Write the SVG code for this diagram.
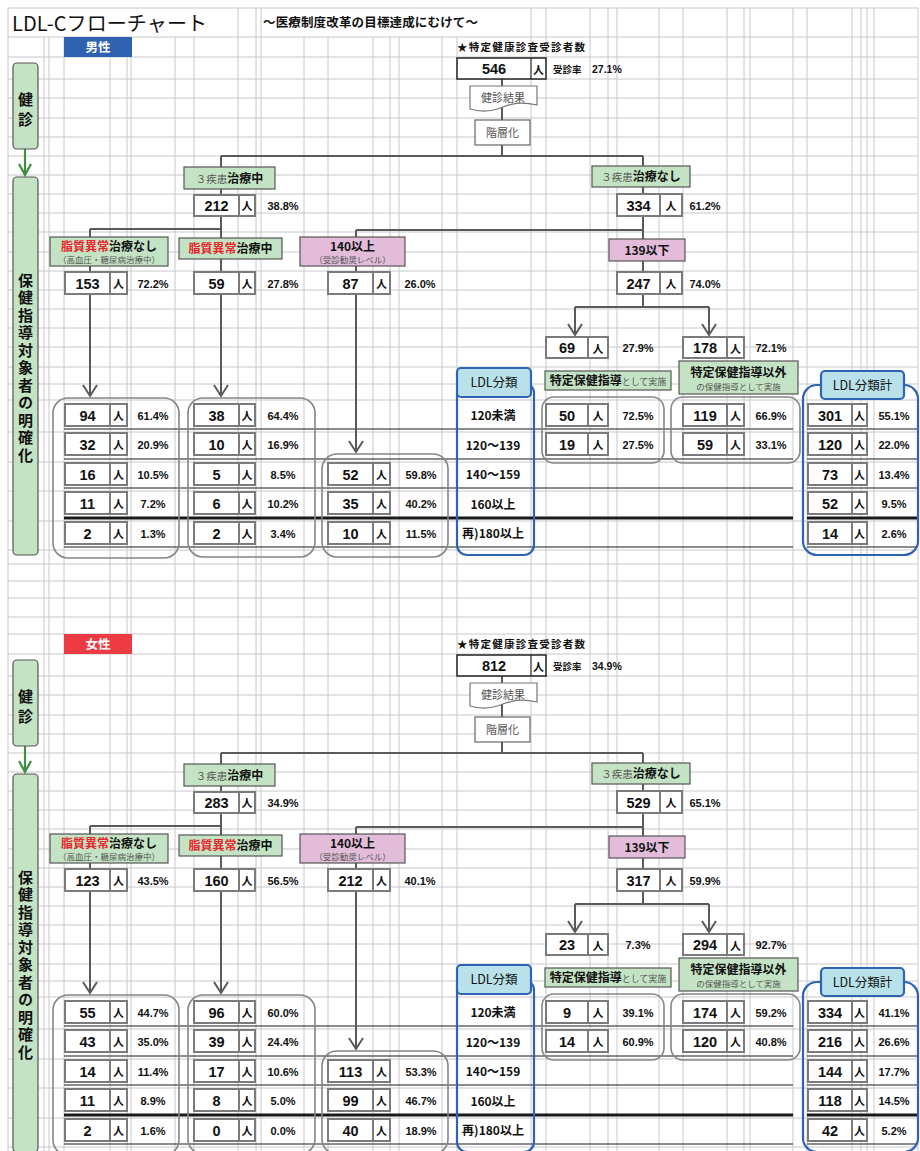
<svg xmlns="http://www.w3.org/2000/svg" width="920" height="1151" viewBox="0 0 920 1151">
<style>
.g{stroke:#c8c8ce;stroke-width:1;fill:none}
.c{stroke:#5a5a5a;stroke-width:2;fill:none}
.ga{stroke:#3f8f43;stroke-width:2.2;fill:none}
.cell{fill:#fff;stroke:#7b7b7b;stroke-width:2}
.dv{stroke:#7b7b7b;stroke-width:2}
.grn{fill:#c4e3c4;stroke:#555;stroke-width:1.2}
.pnk{fill:#e2bcd9;stroke:#555;stroke-width:1.2}
.grp{fill:none;stroke:#858585;stroke-width:1.6}
.bl{fill:none;stroke:#2f63b6;stroke-width:2.2}
.bll{fill:#b8e1ea;stroke:#2f63b6;stroke-width:2.2}
.hl{stroke:#1a1a1a;stroke-width:1.2;fill:none}
.hk{stroke:#1a1a1a;stroke-width:2.8;fill:none}
text{font-family:"Liberation Sans","Noto Sans CJK JP",sans-serif;fill:#111}
.j{font-family:"Noto Sans CJK JP",sans-serif}
.num{font-size:14.5px;font-weight:bold;text-anchor:middle}
.nin{font-family:"Noto Sans CJK JP",sans-serif;font-size:11px;font-weight:bold;text-anchor:middle}
.pct{font-size:11px;font-weight:bold;text-anchor:middle}
.lbl{font-family:"Noto Sans CJK JP",sans-serif;font-size:12px;font-weight:bold;text-anchor:middle}
.sub{font-family:"Noto Sans CJK JP",sans-serif;font-size:8.5px;fill:#555;text-anchor:middle}
.gy{font-weight:normal;fill:#555}
.rd{fill:#e8262e}
.side{font-family:"Noto Sans CJK JP",sans-serif;font-size:15px;font-weight:bold;writing-mode:vertical-rl}
.ldl{font-family:"Noto Sans CJK JP",sans-serif;font-size:12px;font-weight:bold;text-anchor:middle}
.gtx{font-family:"Noto Sans CJK JP",sans-serif;font-size:11px;fill:#555;text-anchor:middle}
</style>
<rect width="920" height="1151" fill="#fff"/>
<g id="grid">
<path class="g" d="M8,8V1151M238,8V1151M256,8V1151M261,8V1151M531,8V1151M546,8V1151M590,8V1151M608,8V1151M617,8V1151M659,8V1151M683,8V1151M727,8V1151M744,8V1151M750,8V1151M793,8V1151M807,8V1151M852,8V1151M861,8V1151M867,8V1151M874,8V1151M918,8V1151M44,37V1151M49,37V1151M64,37V1151M110,37V1151M127,37V1151M131,37V1151M175,37V1151M194,37V1151M304,37V1151M328,37V1151M373,37V1151M390,37V1151M399,37V1151M442,37V1151M457,37V1151"/>
<path class="g" d="M8,8H918M8,37H918M8,57H918M8,79H918M8,98H918M8,118H918M8,137H918M8,156H918M8,175H918M8,194H918M8,213H918M8,232H918M8,252H918M8,271H918M8,290H918M8,309H918M8,328H918M8,347H918M8,367H918M8,384H918M8,400H918M8,432H918M8,462H918M8,491H918M8,521H918M8,550H918M8,564H918M8,581H918M8,598H918M8,617H918M8,634H918M8,654H918M8,676H918M8,695H918M8,715H918M8,734H918M8,753H918M8,772H918M8,791H918M8,810H918M8,829H918M8,849H918M8,868H918M8,887H918M8,906H918M8,925H918M8,944H918M8,964H918M8,981H918M8,997H918M8,1029H918M8,1059H918M8,1088H918M8,1118H918M8,1147H918"/>
</g>
<g id="rowlines">
<path class="hl" d="M64,429H793M807,429H917M64,459H793M807,459H917M64,488H793M807,488H917M64,547H793M807,547H917"/>
<path class="hk" d="M64,518H793M807,518H917"/>
<path class="hl" d="M64,1026H793M807,1026H917M64,1056H793M807,1056H917M64,1085H793M807,1085H917M64,1144H793M807,1144H917"/>
<path class="hk" d="M64,1115H793M807,1115H917"/>
</g>
<g id="title"><text class="j" x="12" y="31" font-size="20" textLength="195" lengthAdjust="spacing">LDL-Cフローチャート</text>
<text class="j" x="263" y="27" font-size="12.5" font-weight="bold" textLength="215">～医療制度改革の目標達成にむけて～</text></g>
<g id="connectors">
<path class="c" d="M502,79V156M221,156H643M221,156V167M643,156V166M221,189V195M643,187V194M221,216V238M90,229H221M90,229V237M643,216V239M356,230H643M356,230V237M90,266V272M221,259V272M643,261V272M356,266V272M90,294V396M221,294V396M356,294V452M643,294V307M575,307H709M575,307V335M709,307V335M83,385L90,396L97,385M214,385L221,396L228,385M349,441L356,452L363,441M568,324L575,335L582,324M702,324L709,335L716,324"/>
<path class="c" transform="translate(0,597)" d="M502,79V156M221,156H643M221,156V167M643,156V166M221,189V195M643,187V194M221,216V238M90,229H221M90,229V237M643,216V239M356,230H643M356,230V237M90,266V272M221,259V272M643,261V272M356,266V272M90,294V396M221,294V396M356,294V452M643,294V307M575,307H709M575,307V335M709,307V335M83,385L90,396L97,385M214,385L221,396L228,385M349,441L356,452L363,441M568,324L575,335L582,324M702,324L709,335L716,324"/>
<path class="ga" d="M25,149V174M19,164L25,175L31,164M25,746V771M19,761L25,772L31,761"/>
</g>
<g id="male">
<g id="m-label"><rect x="64" y="37" width="68" height="20" fill="#2f62b0"/><text class="j" x="98" y="52" font-size="12.5" font-weight="bold" text-anchor="middle" style="fill:#fff">男性</text></g>
<g id="m-kenshin"><rect class="grn" x="13" y="63" width="25" height="86" rx="4"/><text class="side" x="25.5" y="91.5" letter-spacing="5">健診</text></g>
<g id="m-hoken"><rect class="grn" x="13" y="177" width="25" height="378" rx="4"/><text class="side" x="25.5" y="272.5" letter-spacing="2.5">保健指導対象者の明確化</text></g>
<g id="m-total"><text class="j" x="457" y="51" font-size="10.5" font-weight="bold" textLength="128">★特定健康診査受診者数</text><rect x="457" y="58" width="89" height="21" fill="#fff" stroke="#222" stroke-width="1.5"/><line x1="531" y1="58" x2="531" y2="79" stroke="#222" stroke-width="1.2"/><text class="num" x="494" y="74">546</text><text class="nin" x="538.5" y="74">人</text><text class="j" x="553" y="73" font-size="9.5" font-weight="bold">受診率</text><text x="592" y="73" font-size="10.5" font-weight="bold">27.1%</text></g>
<g id="m-result"><path d="M470,86H537V105C520,101 511,104 503,107C491,112 480,112 470,109Z" fill="#fff" stroke="#777" stroke-width="1.2"/><text class="gtx" x="503" y="102">健診結果</text></g>
<g id="m-strat"><rect x="475" y="120" width="55" height="25" fill="#fff" stroke="#666" stroke-width="1.2"/><text class="gtx" x="502.5" y="137">階層化</text></g>
<g id="m-3tx"><rect class="grn" x="184" y="167" width="91" height="22"/><text class="lbl" x="229.5" y="182.5"><tspan class="gy" font-size="10.5">３疾患</tspan>治療中</text></g>
<g id="m-212"><rect class="cell" x="194" y="195" width="61" height="21"/><line class="dv" x1="239" y1="195" x2="239" y2="216"/><text class="num" x="216.5" y="211">212</text><text class="nin" x="247" y="210">人</text><text class="pct" x="283" y="210">38.8%</text></g>
<g id="m-3no"><rect class="grn" x="592" y="166" width="98" height="21"/><text class="lbl" x="641" y="181"><tspan class="gy" font-size="10.5">３疾患</tspan>治療なし</text></g>
<g id="m-334"><rect class="cell" x="617" y="194" width="65" height="22"/><line class="dv" x1="660" y1="194" x2="660" y2="216"/><text class="num" x="638.5" y="210.5">334</text><text class="nin" x="671" y="210">人</text><text class="pct" x="705" y="209.5">61.2%</text></g>
<g id="m-lipno"><rect class="grn" x="50" y="237" width="118" height="29"/><text class="lbl" x="109" y="250.5"><tspan class="rd">脂質異常</tspan>治療なし</text><text class="sub" x="109" y="262.5">（高血圧・糖尿病治療中）</text></g>
<g id="m-liptx"><rect class="grn" x="179" y="238" width="103" height="21"/><text class="lbl" x="230.5" y="253"><tspan class="rd">脂質異常</tspan>治療中</text></g>
<g id="m-140"><rect class="pnk" x="300" y="237" width="105" height="29"/><text class="lbl" x="352.5" y="250.5">140以上</text><text class="sub" x="352.5" y="262.5">（受診勧奨レベル）</text></g>
<g id="m-139"><rect class="pnk" x="609" y="239" width="76" height="22"/><text class="lbl" x="647" y="254.5">139以下</text></g>
<g id="m-153"><rect class="cell" x="65" y="272" width="62" height="22"/><line class="dv" x1="110" y1="272" x2="110" y2="294"/><text class="num" x="87.5" y="288.5">153</text><text class="nin" x="118.5" y="288">人</text><text class="pct" x="153" y="287.5">72.2%</text></g>
<g id="m-59"><rect class="cell" x="194" y="272" width="61" height="22"/><line class="dv" x1="239" y1="272" x2="239" y2="294"/><text class="num" x="216.5" y="288.5">59</text><text class="nin" x="247" y="288">人</text><text class="pct" x="283" y="287.5">27.8%</text></g>
<g id="m-87"><rect class="cell" x="328" y="272" width="62" height="22"/><line class="dv" x1="373" y1="272" x2="373" y2="294"/><text class="num" x="350.5" y="288.5">87</text><text class="nin" x="381.5" y="288">人</text><text class="pct" x="420" y="287.5">26.0%</text></g>
<g id="m-247"><rect class="cell" x="617" y="272" width="65" height="22"/><line class="dv" x1="660" y1="272" x2="660" y2="294"/><text class="num" x="638.5" y="288.5">247</text><text class="nin" x="671" y="288">人</text><text class="pct" x="705" y="287.5">74.0%</text></g>
<g id="m-69"><rect class="cell" x="546" y="337" width="62" height="21"/><line class="dv" x1="588" y1="337" x2="588" y2="358"/><text class="num" x="567" y="353">69</text><text class="nin" x="598" y="352.5">人</text><text class="pct" x="638" y="352">27.9%</text></g>
<g id="m-178"><rect class="cell" x="683" y="337" width="61" height="21"/><line class="dv" x1="727" y1="337" x2="727" y2="358"/><text class="num" x="705" y="353">178</text><text class="nin" x="735.5" y="352.5">人</text><text class="pct" x="771" y="352">72.1%</text></g>
<g id="m-tokutei"><rect class="grn" x="545" y="371" width="126" height="19"/><text class="lbl" x="608" y="385" font-size="11.5">特定保健指導<tspan class="gy" font-size="9">として実施</tspan></text></g>
<g id="m-other"><rect class="grn" x="679" y="361" width="119" height="33"/><text class="lbl" x="738.5" y="377" font-size="12.5">特定保健指導以外</text><text class="sub" x="738.5" y="389.5" font-size="9">の保健指導として実施</text></g>
<g id="m-ldl"><rect class="bl" x="457" y="383" width="77" height="172" rx="10"/><rect class="bll" x="457" y="368" width="74" height="29" rx="4"/><text class="j" x="494" y="387" font-size="12.5" text-anchor="middle">LDL分類</text><text class="ldl" x="493" y="420">120未満</text><text class="ldl" x="493" y="449.5">120～139</text><text class="ldl" x="493" y="479">140～159</text><text class="ldl" x="493" y="508.5">160以上</text><text class="ldl" x="493" y="537.5" font-size="10.5">再)180以上</text></g>
<g id="m-g1"><rect class="grp" x="53" y="398" width="126" height="160" rx="15"/>
<rect class="cell" x="65" y="404" width="62" height="22"/><line class="dv" x1="110" y1="404" x2="110" y2="426"/><text class="num" x="87.5" y="420.5">94</text><text class="nin" x="118.5" y="420">人</text><text class="pct" x="153" y="419.5">61.4%</text>
<rect class="cell" x="65" y="433" width="62" height="22"/><line class="dv" x1="110" y1="433" x2="110" y2="455"/><text class="num" x="87.5" y="449.5">32</text><text class="nin" x="118.5" y="449">人</text><text class="pct" x="153" y="448.5">20.9%</text>
<rect class="cell" x="65" y="463" width="62" height="22"/><line class="dv" x1="110" y1="463" x2="110" y2="485"/><text class="num" x="87.5" y="479.5">16</text><text class="nin" x="118.5" y="479">人</text><text class="pct" x="153" y="478.5">10.5%</text>
<rect class="cell" x="65" y="492" width="62" height="22"/><line class="dv" x1="110" y1="492" x2="110" y2="514"/><text class="num" x="87.5" y="508.5">11</text><text class="nin" x="118.5" y="508">人</text><text class="pct" x="153" y="507.5">7.2%</text>
<rect class="cell" x="65" y="522" width="62" height="22"/><line class="dv" x1="110" y1="522" x2="110" y2="544"/><text class="num" x="87.5" y="538.5">2</text><text class="nin" x="118.5" y="538">人</text><text class="pct" x="153" y="537.5">1.3%</text></g>
<g id="m-g2"><rect class="grp" x="188" y="398" width="127" height="159" rx="15"/>
<rect class="cell" x="194" y="404" width="61" height="22"/><line class="dv" x1="239" y1="404" x2="239" y2="426"/><text class="num" x="216.5" y="420.5">38</text><text class="nin" x="247" y="420">人</text><text class="pct" x="283" y="419.5">64.4%</text>
<rect class="cell" x="194" y="433" width="61" height="22"/><line class="dv" x1="239" y1="433" x2="239" y2="455"/><text class="num" x="216.5" y="449.5">10</text><text class="nin" x="247" y="449">人</text><text class="pct" x="283" y="448.5">16.9%</text>
<rect class="cell" x="194" y="463" width="61" height="22"/><line class="dv" x1="239" y1="463" x2="239" y2="485"/><text class="num" x="216.5" y="479.5">5</text><text class="nin" x="247" y="479">人</text><text class="pct" x="283" y="478.5">8.5%</text>
<rect class="cell" x="194" y="492" width="61" height="22"/><line class="dv" x1="239" y1="492" x2="239" y2="514"/><text class="num" x="216.5" y="508.5">6</text><text class="nin" x="247" y="508">人</text><text class="pct" x="283" y="507.5">10.2%</text>
<rect class="cell" x="194" y="522" width="61" height="22"/><line class="dv" x1="239" y1="522" x2="239" y2="544"/><text class="num" x="216.5" y="538.5">2</text><text class="nin" x="247" y="538">人</text><text class="pct" x="283" y="537.5">3.4%</text></g>
<g id="m-g3"><rect class="grp" x="322" y="454" width="126" height="103" rx="15"/>
<rect class="cell" x="328" y="463" width="62" height="22"/><line class="dv" x1="373" y1="463" x2="373" y2="485"/><text class="num" x="350.5" y="479.5">52</text><text class="nin" x="381.5" y="479">人</text><text class="pct" x="421" y="478.5">59.8%</text>
<rect class="cell" x="328" y="492" width="62" height="22"/><line class="dv" x1="373" y1="492" x2="373" y2="514"/><text class="num" x="350.5" y="508.5">35</text><text class="nin" x="381.5" y="508">人</text><text class="pct" x="421" y="507.5">40.2%</text>
<rect class="cell" x="328" y="522" width="62" height="22"/><line class="dv" x1="373" y1="522" x2="373" y2="544"/><text class="num" x="350.5" y="538.5">10</text><text class="nin" x="381.5" y="538">人</text><text class="pct" x="421" y="537.5">11.5%</text></g>
<g id="m-g4"><rect class="grp" x="542" y="397" width="122" height="66" rx="12"/>
<rect class="cell" x="546" y="404" width="62" height="22"/><line class="dv" x1="588" y1="404" x2="588" y2="426"/><text class="num" x="567" y="420.5">50</text><text class="nin" x="598" y="420">人</text><text class="pct" x="638" y="419.5">72.5%</text>
<rect class="cell" x="546" y="433" width="62" height="22"/><line class="dv" x1="588" y1="433" x2="588" y2="455"/><text class="num" x="567" y="449.5">19</text><text class="nin" x="598" y="449">人</text><text class="pct" x="638" y="448.5">27.5%</text></g>
<g id="m-g5"><rect class="grp" x="671" y="397" width="129" height="66" rx="12"/>
<rect class="cell" x="683" y="404" width="61" height="22"/><line class="dv" x1="727" y1="404" x2="727" y2="426"/><text class="num" x="705" y="420.5">119</text><text class="nin" x="735.5" y="420">人</text><text class="pct" x="771" y="419.5">66.9%</text>
<rect class="cell" x="683" y="433" width="61" height="22"/><line class="dv" x1="727" y1="433" x2="727" y2="455"/><text class="num" x="705" y="449.5">59</text><text class="nin" x="735.5" y="449">人</text><text class="pct" x="771" y="448.5">33.1%</text></g>
<g id="m-sum"><rect class="bl" x="803" y="385" width="115" height="170" rx="14"/><rect class="bll" x="821" y="371" width="83" height="28" rx="4"/><text class="j" x="862.5" y="390" font-size="12.5" text-anchor="middle">LDL分類計</text>
<rect class="cell" x="808" y="404" width="59" height="22"/><line class="dv" x1="852" y1="404" x2="852" y2="426"/><text class="num" x="830" y="420.5">301</text><text class="nin" x="859.5" y="420">人</text><text class="pct" x="894" y="419.5">55.1%</text>
<rect class="cell" x="808" y="433" width="59" height="22"/><line class="dv" x1="852" y1="433" x2="852" y2="455"/><text class="num" x="830" y="449.5">120</text><text class="nin" x="859.5" y="449">人</text><text class="pct" x="894" y="448.5">22.0%</text>
<rect class="cell" x="808" y="463" width="59" height="22"/><line class="dv" x1="852" y1="463" x2="852" y2="485"/><text class="num" x="830" y="479.5">73</text><text class="nin" x="859.5" y="479">人</text><text class="pct" x="894" y="478.5">13.4%</text>
<rect class="cell" x="808" y="492" width="59" height="22"/><line class="dv" x1="852" y1="492" x2="852" y2="514"/><text class="num" x="830" y="508.5">52</text><text class="nin" x="859.5" y="508">人</text><text class="pct" x="894" y="507.5">9.5%</text>
<rect class="cell" x="808" y="522" width="59" height="22"/><line class="dv" x1="852" y1="522" x2="852" y2="544"/><text class="num" x="830" y="538.5">14</text><text class="nin" x="859.5" y="538">人</text><text class="pct" x="894" y="537.5">2.6%</text></g>
</g>
<g id="female" transform="translate(0,597)">
<g id="f-label"><rect x="64" y="37" width="68" height="20" fill="#ee3a43"/><text class="j" x="98" y="52" font-size="12.5" font-weight="bold" text-anchor="middle" style="fill:#fff">女性</text></g>
<g id="f-kenshin"><rect class="grn" x="13" y="63" width="25" height="86" rx="4"/><text class="side" x="25.5" y="91.5" letter-spacing="5">健診</text></g>
<g id="f-hoken"><rect class="grn" x="13" y="177" width="25" height="378" rx="4"/><text class="side" x="25.5" y="272.5" letter-spacing="2.5">保健指導対象者の明確化</text></g>
<g id="f-total"><text class="j" x="457" y="51" font-size="10.5" font-weight="bold" textLength="128">★特定健康診査受診者数</text><rect x="457" y="58" width="89" height="21" fill="#fff" stroke="#222" stroke-width="1.5"/><line x1="531" y1="58" x2="531" y2="79" stroke="#222" stroke-width="1.2"/><text class="num" x="494" y="74">812</text><text class="nin" x="538.5" y="74">人</text><text class="j" x="553" y="73" font-size="9.5" font-weight="bold">受診率</text><text x="592" y="73" font-size="10.5" font-weight="bold">34.9%</text></g>
<g id="f-result"><path d="M470,86H537V105C520,101 511,104 503,107C491,112 480,112 470,109Z" fill="#fff" stroke="#777" stroke-width="1.2"/><text class="gtx" x="503" y="102">健診結果</text></g>
<g id="f-strat"><rect x="475" y="120" width="55" height="25" fill="#fff" stroke="#666" stroke-width="1.2"/><text class="gtx" x="502.5" y="137">階層化</text></g>
<g id="f-3tx"><rect class="grn" x="184" y="167" width="91" height="22"/><text class="lbl" x="229.5" y="182.5"><tspan class="gy" font-size="10.5">３疾患</tspan>治療中</text></g>
<g id="f-283"><rect class="cell" x="194" y="195" width="61" height="21"/><line class="dv" x1="239" y1="195" x2="239" y2="216"/><text class="num" x="216.5" y="211">283</text><text class="nin" x="247" y="210">人</text><text class="pct" x="283" y="210">34.9%</text></g>
<g id="f-3no"><rect class="grn" x="592" y="166" width="98" height="21"/><text class="lbl" x="641" y="181"><tspan class="gy" font-size="10.5">３疾患</tspan>治療なし</text></g>
<g id="f-529"><rect class="cell" x="617" y="194" width="65" height="22"/><line class="dv" x1="660" y1="194" x2="660" y2="216"/><text class="num" x="638.5" y="210.5">529</text><text class="nin" x="671" y="210">人</text><text class="pct" x="705" y="209.5">65.1%</text></g>
<g id="f-lipno"><rect class="grn" x="50" y="237" width="118" height="29"/><text class="lbl" x="109" y="250.5"><tspan class="rd">脂質異常</tspan>治療なし</text><text class="sub" x="109" y="262.5">（高血圧・糖尿病治療中）</text></g>
<g id="f-liptx"><rect class="grn" x="179" y="238" width="103" height="21"/><text class="lbl" x="230.5" y="253"><tspan class="rd">脂質異常</tspan>治療中</text></g>
<g id="f-140"><rect class="pnk" x="300" y="237" width="105" height="29"/><text class="lbl" x="352.5" y="250.5">140以上</text><text class="sub" x="352.5" y="262.5">（受診勧奨レベル）</text></g>
<g id="f-139"><rect class="pnk" x="609" y="239" width="76" height="22"/><text class="lbl" x="647" y="254.5">139以下</text></g>
<g id="f-123"><rect class="cell" x="65" y="272" width="62" height="22"/><line class="dv" x1="110" y1="272" x2="110" y2="294"/><text class="num" x="87.5" y="288.5">123</text><text class="nin" x="118.5" y="288">人</text><text class="pct" x="153" y="287.5">43.5%</text></g>
<g id="f-160"><rect class="cell" x="194" y="272" width="61" height="22"/><line class="dv" x1="239" y1="272" x2="239" y2="294"/><text class="num" x="216.5" y="288.5">160</text><text class="nin" x="247" y="288">人</text><text class="pct" x="283" y="287.5">56.5%</text></g>
<g id="f-212"><rect class="cell" x="328" y="272" width="62" height="22"/><line class="dv" x1="373" y1="272" x2="373" y2="294"/><text class="num" x="350.5" y="288.5">212</text><text class="nin" x="381.5" y="288">人</text><text class="pct" x="420" y="287.5">40.1%</text></g>
<g id="f-317"><rect class="cell" x="617" y="272" width="65" height="22"/><line class="dv" x1="660" y1="272" x2="660" y2="294"/><text class="num" x="638.5" y="288.5">317</text><text class="nin" x="671" y="288">人</text><text class="pct" x="705" y="287.5">59.9%</text></g>
<g id="f-23"><rect class="cell" x="546" y="337" width="62" height="21"/><line class="dv" x1="588" y1="337" x2="588" y2="358"/><text class="num" x="567" y="353">23</text><text class="nin" x="598" y="352.5">人</text><text class="pct" x="638" y="352">7.3%</text></g>
<g id="f-294"><rect class="cell" x="683" y="337" width="61" height="21"/><line class="dv" x1="727" y1="337" x2="727" y2="358"/><text class="num" x="705" y="353">294</text><text class="nin" x="735.5" y="352.5">人</text><text class="pct" x="771" y="352">92.7%</text></g>
<g id="f-tokutei"><rect class="grn" x="545" y="371" width="126" height="19"/><text class="lbl" x="608" y="385" font-size="11.5">特定保健指導<tspan class="gy" font-size="9">として実施</tspan></text></g>
<g id="f-other"><rect class="grn" x="679" y="361" width="119" height="33"/><text class="lbl" x="738.5" y="377" font-size="12.5">特定保健指導以外</text><text class="sub" x="738.5" y="389.5" font-size="9">の保健指導として実施</text></g>
<g id="f-ldl"><rect class="bl" x="457" y="383" width="77" height="172" rx="10"/><rect class="bll" x="457" y="368" width="74" height="29" rx="4"/><text class="j" x="494" y="387" font-size="12.5" text-anchor="middle">LDL分類</text><text class="ldl" x="493" y="420">120未満</text><text class="ldl" x="493" y="449.5">120～139</text><text class="ldl" x="493" y="479">140～159</text><text class="ldl" x="493" y="508.5">160以上</text><text class="ldl" x="493" y="537.5" font-size="10.5">再)180以上</text></g>
<g id="f-g1"><rect class="grp" x="53" y="398" width="126" height="160" rx="15"/>
<rect class="cell" x="65" y="404" width="62" height="22"/><line class="dv" x1="110" y1="404" x2="110" y2="426"/><text class="num" x="87.5" y="420.5">55</text><text class="nin" x="118.5" y="420">人</text><text class="pct" x="153" y="419.5">44.7%</text>
<rect class="cell" x="65" y="433" width="62" height="22"/><line class="dv" x1="110" y1="433" x2="110" y2="455"/><text class="num" x="87.5" y="449.5">43</text><text class="nin" x="118.5" y="449">人</text><text class="pct" x="153" y="448.5">35.0%</text>
<rect class="cell" x="65" y="463" width="62" height="22"/><line class="dv" x1="110" y1="463" x2="110" y2="485"/><text class="num" x="87.5" y="479.5">14</text><text class="nin" x="118.5" y="479">人</text><text class="pct" x="153" y="478.5">11.4%</text>
<rect class="cell" x="65" y="492" width="62" height="22"/><line class="dv" x1="110" y1="492" x2="110" y2="514"/><text class="num" x="87.5" y="508.5">11</text><text class="nin" x="118.5" y="508">人</text><text class="pct" x="153" y="507.5">8.9%</text>
<rect class="cell" x="65" y="522" width="62" height="22"/><line class="dv" x1="110" y1="522" x2="110" y2="544"/><text class="num" x="87.5" y="538.5">2</text><text class="nin" x="118.5" y="538">人</text><text class="pct" x="153" y="537.5">1.6%</text></g>
<g id="f-g2"><rect class="grp" x="188" y="398" width="127" height="159" rx="15"/>
<rect class="cell" x="194" y="404" width="61" height="22"/><line class="dv" x1="239" y1="404" x2="239" y2="426"/><text class="num" x="216.5" y="420.5">96</text><text class="nin" x="247" y="420">人</text><text class="pct" x="283" y="419.5">60.0%</text>
<rect class="cell" x="194" y="433" width="61" height="22"/><line class="dv" x1="239" y1="433" x2="239" y2="455"/><text class="num" x="216.5" y="449.5">39</text><text class="nin" x="247" y="449">人</text><text class="pct" x="283" y="448.5">24.4%</text>
<rect class="cell" x="194" y="463" width="61" height="22"/><line class="dv" x1="239" y1="463" x2="239" y2="485"/><text class="num" x="216.5" y="479.5">17</text><text class="nin" x="247" y="479">人</text><text class="pct" x="283" y="478.5">10.6%</text>
<rect class="cell" x="194" y="492" width="61" height="22"/><line class="dv" x1="239" y1="492" x2="239" y2="514"/><text class="num" x="216.5" y="508.5">8</text><text class="nin" x="247" y="508">人</text><text class="pct" x="283" y="507.5">5.0%</text>
<rect class="cell" x="194" y="522" width="61" height="22"/><line class="dv" x1="239" y1="522" x2="239" y2="544"/><text class="num" x="216.5" y="538.5">0</text><text class="nin" x="247" y="538">人</text><text class="pct" x="283" y="537.5">0.0%</text></g>
<g id="f-g3"><rect class="grp" x="322" y="454" width="126" height="103" rx="15"/>
<rect class="cell" x="328" y="463" width="62" height="22"/><line class="dv" x1="373" y1="463" x2="373" y2="485"/><text class="num" x="350.5" y="479.5">113</text><text class="nin" x="381.5" y="479">人</text><text class="pct" x="421" y="478.5">53.3%</text>
<rect class="cell" x="328" y="492" width="62" height="22"/><line class="dv" x1="373" y1="492" x2="373" y2="514"/><text class="num" x="350.5" y="508.5">99</text><text class="nin" x="381.5" y="508">人</text><text class="pct" x="421" y="507.5">46.7%</text>
<rect class="cell" x="328" y="522" width="62" height="22"/><line class="dv" x1="373" y1="522" x2="373" y2="544"/><text class="num" x="350.5" y="538.5">40</text><text class="nin" x="381.5" y="538">人</text><text class="pct" x="421" y="537.5">18.9%</text></g>
<g id="f-g4"><rect class="grp" x="542" y="397" width="122" height="66" rx="12"/>
<rect class="cell" x="546" y="404" width="62" height="22"/><line class="dv" x1="588" y1="404" x2="588" y2="426"/><text class="num" x="567" y="420.5">9</text><text class="nin" x="598" y="420">人</text><text class="pct" x="638" y="419.5">39.1%</text>
<rect class="cell" x="546" y="433" width="62" height="22"/><line class="dv" x1="588" y1="433" x2="588" y2="455"/><text class="num" x="567" y="449.5">14</text><text class="nin" x="598" y="449">人</text><text class="pct" x="638" y="448.5">60.9%</text></g>
<g id="f-g5"><rect class="grp" x="671" y="397" width="129" height="66" rx="12"/>
<rect class="cell" x="683" y="404" width="61" height="22"/><line class="dv" x1="727" y1="404" x2="727" y2="426"/><text class="num" x="705" y="420.5">174</text><text class="nin" x="735.5" y="420">人</text><text class="pct" x="771" y="419.5">59.2%</text>
<rect class="cell" x="683" y="433" width="61" height="22"/><line class="dv" x1="727" y1="433" x2="727" y2="455"/><text class="num" x="705" y="449.5">120</text><text class="nin" x="735.5" y="449">人</text><text class="pct" x="771" y="448.5">40.8%</text></g>
<g id="f-sum"><rect class="bl" x="803" y="385" width="115" height="170" rx="14"/><rect class="bll" x="821" y="371" width="83" height="28" rx="4"/><text class="j" x="862.5" y="390" font-size="12.5" text-anchor="middle">LDL分類計</text>
<rect class="cell" x="808" y="404" width="59" height="22"/><line class="dv" x1="852" y1="404" x2="852" y2="426"/><text class="num" x="830" y="420.5">334</text><text class="nin" x="859.5" y="420">人</text><text class="pct" x="894" y="419.5">41.1%</text>
<rect class="cell" x="808" y="433" width="59" height="22"/><line class="dv" x1="852" y1="433" x2="852" y2="455"/><text class="num" x="830" y="449.5">216</text><text class="nin" x="859.5" y="449">人</text><text class="pct" x="894" y="448.5">26.6%</text>
<rect class="cell" x="808" y="463" width="59" height="22"/><line class="dv" x1="852" y1="463" x2="852" y2="485"/><text class="num" x="830" y="479.5">144</text><text class="nin" x="859.5" y="479">人</text><text class="pct" x="894" y="478.5">17.7%</text>
<rect class="cell" x="808" y="492" width="59" height="22"/><line class="dv" x1="852" y1="492" x2="852" y2="514"/><text class="num" x="830" y="508.5">118</text><text class="nin" x="859.5" y="508">人</text><text class="pct" x="894" y="507.5">14.5%</text>
<rect class="cell" x="808" y="522" width="59" height="22"/><line class="dv" x1="852" y1="522" x2="852" y2="544"/><text class="num" x="830" y="538.5">42</text><text class="nin" x="859.5" y="538">人</text><text class="pct" x="894" y="537.5">5.2%</text></g>
</g>
</svg>
